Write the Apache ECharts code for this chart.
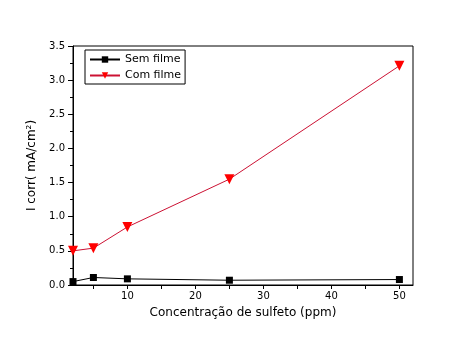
<!DOCTYPE html>
<html>
<head>
<meta charset="utf-8">
<script src="https://cdn.jsdelivr.net/npm/echarts@6/dist/echarts.min.js"></script>
<style>
  html, body { margin: 0; padding: 0; background: #fff; }
  #chart { width: 466px; height: 338px; }
</style>
</head>
<body>
<div id="chart"></div>
<script>
// Sulfide concentration (ppm)
const concentracao = [2, 5, 10, 25, 50];
// Corrosion current density (mA/cm²)
const semFilme = [0.05, 0.11, 0.09, 0.07, 0.08];
const comFilme = [0.50, 0.54, 0.85, 1.55, 3.21];
const xTicks = [5, 10, 15, 20, 25, 30, 35, 40, 45, 50];
const xLabels = [10, 20, 30, 40, 50];

const font = 'DejaVu Sans, Verdana, sans-serif';
const chart = echarts.init(document.getElementById('chart'));

chart.setOption({
  animation: false,
  backgroundColor: '#fff',
  grid: {
    left: 73, right: 53, top: 46, bottom: 53,
    show: true, borderColor: '#000', borderWidth: 1
  },
  legend: {
    left: 85, top: 50,
    orient: 'vertical',
    itemWidth: 30, itemHeight: 8, itemGap: 5,
    padding: [4, 4, 3, 4],
    borderColor: '#000', borderWidth: 1,
    textStyle: { fontFamily: font, fontSize: 11, color: '#000' },
    data: ['Sem filme', 'Com filme']
  },
  xAxis: {
    type: 'value', min: 2, max: 52,
    name: 'Concentração de sulfeto (ppm)',
    nameLocation: 'middle', nameGap: 22,
    nameTextStyle: { fontFamily: font, fontSize: 12, color: '#000' },
    axisLine: { lineStyle: { color: '#000' } },
    axisTick: { show: true, customValues: xTicks, length: 4, lineStyle: { color: '#000' } },
    axisLabel: { customValues: xLabels, fontFamily: font, fontSize: 10, color: '#000', margin: 6 },
    splitLine: { show: false }
  },
  yAxis: {
    type: 'value', min: 0, max: 3.5, interval: 0.5,
    name: 'I corr( mA/cm²)',
    nameLocation: 'middle', nameGap: 34,
    nameTextStyle: { fontFamily: font, fontSize: 12, color: '#000' },
    axisLine: { show: true, lineStyle: { color: '#000' } },
    axisTick: { show: true, length: 5, lineStyle: { color: '#000' } },
    minorTick: { show: true, splitNumber: 2, length: 3, lineStyle: { color: '#000' } },
    axisLabel: { fontFamily: font, fontSize: 10, color: '#000', margin: 8,
      formatter: v => v.toFixed(1) },
    splitLine: { show: false }
  },
  series: [
    {
      name: 'Sem filme', type: 'line',
      data: concentracao.map((x, i) => [x, semFilme[i]]),
      symbol: 'rect', symbolSize: 7,
      itemStyle: { color: '#000' },
      lineStyle: { color: '#000', width: 1 }
    },
    {
      name: 'Com filme', type: 'line',
      data: concentracao.map((x, i) => [x, comFilme[i]]),
      symbol: 'triangle', symbolRotate: 180, symbolSize: 10,
      itemStyle: { color: '#ff0000' },
      lineStyle: { color: '#cc1133', width: 1 }
    }
  ]
});
</script>
</body>
</html>
